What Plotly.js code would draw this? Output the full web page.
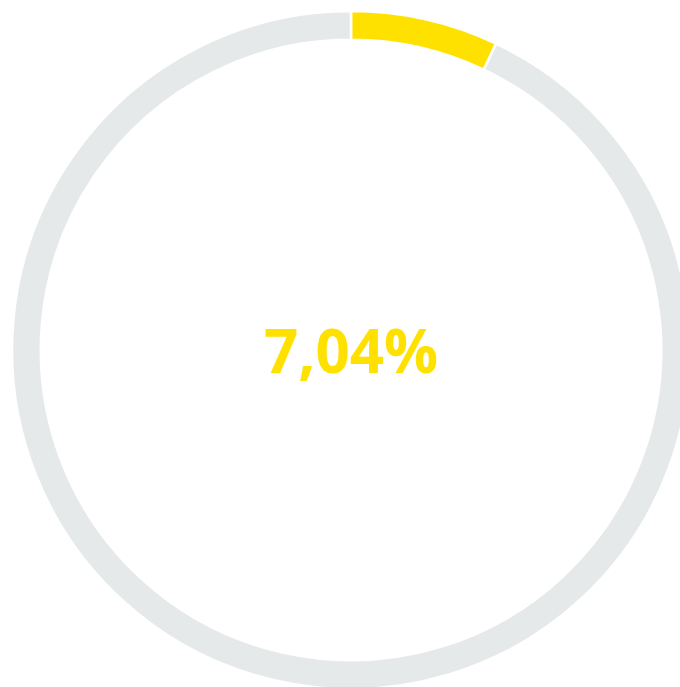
<!DOCTYPE html>
<html>
<head>
<meta charset="utf-8">
<script src="https://cdn.plot.ly/plotly-3.0.1.min.js"></script>
<style>
html,body{margin:0;padding:0;overflow:hidden;background:#fff;width:680px;height:687px;}
#chart{position:absolute;left:0;top:0;width:704px;height:702px;}
</style>
</head>
<body>
<div id="chart"></div>
<script>
const labels = ["Anteil", "Rest"];
const values = [7.04, 92.96];
const colors = ["#FFE100", "#E6E9EA"];
const centerText = "7,04%";

const data = [{
  type: "pie",
  labels: labels,
  values: values,
  hole: 0.915,
  sort: false,
  direction: "clockwise",
  rotation: 0,
  textinfo: "none",
  hoverinfo: "none",
  marker: {colors: colors, line: {color: "#ffffff", width: 2.5}},
  showlegend: false
}];

const layout = {
  width: 704,
  height: 702,
  margin: {l: 12, r: 14, t: 11, b: 13, pad: 0},
  paper_bgcolor: "#ffffff",
  plot_bgcolor: "#ffffff",
  showlegend: false,
  annotations: [{
    text: "<b>" + centerText + "</b>",
    x: 0.5, y: 0.5, xref: "paper", yref: "paper",
    xanchor: "center", yanchor: "middle",
    showarrow: false,
    font: {family: "Open Sans, sans-serif", size: 60, color: "#FFE100"}
  }]
};

Plotly.newPlot("chart", data, layout, {staticPlot: true, displayModeBar: false});
</script>
</body>
</html>
